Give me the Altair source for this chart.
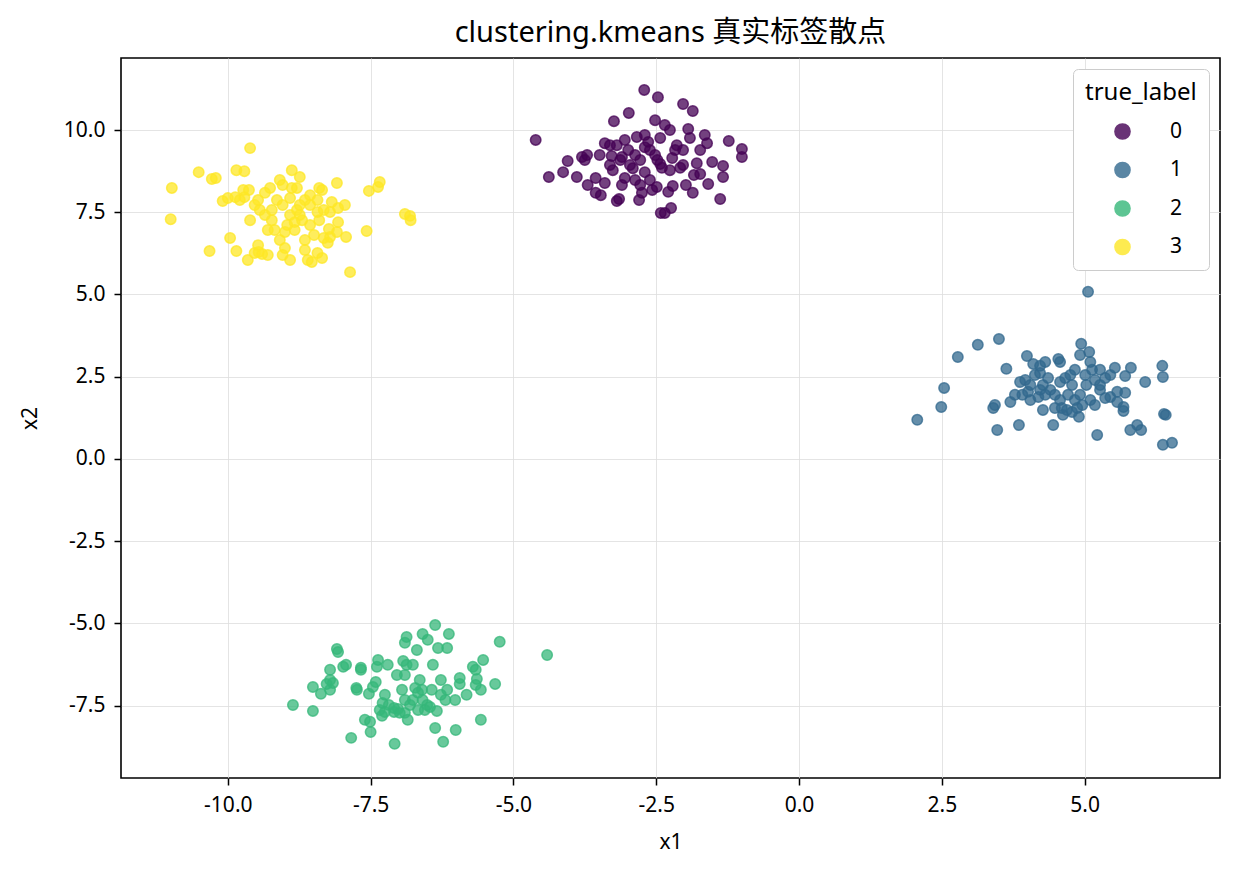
import altair as alt
import pandas as pd

# cluster 0 (purple)
c0_x = [-4.61, -2.71, -2.47, -2.98, -3.24, -2.03, -1.86, -4.05, -3.80, -3.75, -4.38, -4.13, -3.89, -3.70, -3.56,
        -3.47, -3.19, -3.15, -3.40, -3.28, -3.26, -3.13, -2.99, -2.78, -2.61, -2.43, -2.26, -2.35, -1.91, -1.65,
        -1.61, -1.23, -1.00, -1.00, -1.73, -1.79, -1.33, -1.33, -1.38, -1.84, -1.98, -1.86, -1.59, -2.21, -2.49,
        -2.57, -2.42, -2.35, -2.24, -2.80, -2.87, -2.70, -2.43, -2.22, -2.08, -2.48, -2.61, -3.05, -2.96, -2.70,
        -2.17, -2.03, -2.40, -3.71, -3.49, -3.31, -2.84, -2.70, -3.19, -2.03, -2.26, -2.52, -3.10, -2.91, -2.78,
        -3.10, -3.56, -3.40, -1.94, -2.64, -2.52, -2.14, -3.31, -2.75, -2.29, -1.73, -1.52, -3.05, -2.87]
c0_y = [9.70, 11.22, 11.00, 10.52, 10.27, 10.79, 10.58, 9.06, 9.18, 9.09, 8.57, 8.72, 8.57, 8.33, 8.09,
        8.02, 7.84, 7.90, 9.60, 9.21, 8.78, 9.09, 9.39, 9.09, 9.39, 9.76, 10.00, 10.15, 9.76, 9.85,
        9.60, 9.67, 9.42, 9.18, 9.39, 8.99, 8.91, 8.57, 7.90, 8.63, 8.33, 8.09, 8.36, 8.30, 8.27,
        8.18, 7.48, 7.48, 7.63, 7.87, 8.48, 8.72, 8.97, 9.15, 8.85, 9.09, 8.48, 8.54, 8.94, 9.48,
        9.39, 9.39, 8.85, 9.24, 9.24, 9.54, 9.79, 9.85, 9.54, 8.94, 8.78, 10.30, 9.18, 8.84, 8.33,
        8.33, 8.54, 8.39, 10.03, 9.64, 9.24, 9.54, 8.94, 8.09, 8.12, 8.66, 9.03, 9.70, 9.24]

# cluster 1 (blue)
c1_x = [2.07, 2.49, 2.54, 2.78, 3.13, 3.50, 3.63, 3.40, 3.43, 3.70, 3.47, 3.85, 3.99, 4.10, 4.31,
        4.54, 4.57, 5.06, 4.94, 4.92, 5.08, 5.10, 5.13, 5.27, 5.53, 5.81, 6.36, 6.37, 6.06, 5.57,
        5.71, 5.45, 5.68, 5.68, 6.39, 6.42, 5.92, 5.99, 5.80, 6.37, 6.53, 5.22, 4.90, 4.83, 4.69,
        4.62, 4.48, 4.45, 4.27, 4.05, 3.91, 3.96, 3.87, 4.13, 4.22, 4.36, 4.27, 4.22, 4.40, 4.57,
        4.66, 4.75, 4.78, 4.71, 4.92, 4.96, 5.10, 5.18, 5.27, 5.36, 5.36, 5.18, 5.01, 4.83, 4.05,
        4.01, 4.48, 4.57, 4.60, 4.78, 4.31, 4.19, 4.87, 5.45, 5.71, 3.78, 4.22, 5.27, 5.03, 5.57]
c1_y = [1.19, 1.58, 2.16, 3.10, 3.47, 3.65, 2.74, 1.55, 1.64, 1.73, 0.88, 1.03, 3.13, 2.89, 2.95,
        3.04, 2.95, 5.08, 3.50, 3.16, 3.25, 2.95, 2.71, 2.71, 2.77, 2.77, 2.83, 2.49, 2.34, 2.04,
        2.01, 1.88, 1.58, 1.46, 1.37, 1.34, 1.03, 0.88, 0.88, 0.43, 0.49, 0.73, 1.28, 1.79, 1.49,
        1.34, 1.55, 1.03, 1.49, 1.79, 1.95, 2.40, 2.34, 2.55, 2.61, 2.46, 2.25, 2.10, 2.10, 2.34,
        2.46, 2.55, 2.25, 1.95, 1.95, 1.64, 1.79, 2.40, 2.25, 2.46, 1.85, 1.64, 2.55, 2.71, 2.25,
        2.04, 1.95, 1.79, 1.55, 1.43, 1.95, 1.88, 1.55, 2.55, 2.52, 1.95, 2.83, 2.10, 2.25, 1.73]

# cluster 2 (green)
c2_x = [-8.86, -8.51, -8.51, -8.37, -8.21, -8.16, -8.21, -8.09, -8.07, -7.98, -7.93, -8.21, -8.27, -7.84, -7.74,
        -7.75, -7.67, -7.67, -7.60, -7.51, -7.50, -7.53, -7.46, -7.39, -7.37, -7.41, -7.34, -7.30, -7.29, -7.25,
        -7.20, -7.08, -7.09, -7.02, -6.95, -6.93, -6.90, -6.87, -6.90, -6.87, -6.76, -6.69, -6.59, -6.50, -6.37,
        -6.32, -6.16, -6.13, -6.41, -6.81, -6.90, -6.76, -6.67, -6.60, -6.55, -6.51, -6.43, -6.46, -6.34, -6.37,
        -6.23, -6.19, -6.02, -6.01, -5.94, -5.94, -5.82, -5.71, -5.66, -5.64, -5.66, -5.57, -5.53, -5.57, -5.32,
        -5.24, -4.41, -7.18, -7.09, -7.04, -6.64, -6.72, -6.59, -6.90, -6.85, -6.16, -6.27, -6.27, -6.99, -6.67,
        -7.25]
c2_y = [-7.48, -6.93, -7.66, -7.14, -7.02, -6.81, -6.41, -5.78, -5.87, -6.32, -6.26, -6.72, -6.84, -8.48, -7.02,
        -6.96, -6.41, -6.35, -7.93, -7.99, -8.30, -7.14, -6.93, -6.32, -6.11, -6.78, -7.63, -7.81, -7.42, -7.17,
        -6.26, -8.66, -7.69, -7.60, -7.02, -6.14, -5.59, -5.41, -6.57, -6.26, -6.26, -5.81, -5.32, -5.50, -5.05,
        -5.75, -5.75, -5.32, -6.26, -7.48, -7.72, -7.33, -7.11, -7.02, -7.63, -7.48, -7.02, -7.54, -7.66, -8.18,
        -8.60, -7.33, -7.33, -8.24, -6.66, -6.84, -7.17, -6.32, -6.41, -6.69, -6.87, -7.02, -6.11, -7.93, -6.84,
        -5.56, -5.96, -7.48, -7.57, -6.57, -6.72, -6.96, -7.33, -7.33, -7.93, -7.02, -7.17, -6.72, -7.72, -7.63,
        -7.69]

# cluster 3 (yellow)
c3_x = [-10.98, -11.00, -10.51, -10.28, -10.21, -10.32, -10.09, -9.96, -9.85, -9.85, -9.71, -9.61, -9.73, -9.63, -10.00,
        -9.87, -9.79, -9.71, -9.53, -9.47, -9.61, -9.65, -9.53, -9.46, -9.40, -9.30, -9.35, -9.23, -9.47, -9.30,
        -9.18, -9.09, -9.00, -8.91, -9.04, -9.26, -9.09, -9.04, -9.14, -9.04, -8.88, -8.88, -8.91, -8.79, -8.79,
        -8.74, -8.70, -8.83, -8.96, -8.65, -8.56, -8.65, -8.65, -8.60, -8.53, -8.43, -8.35, -8.49, -8.56, -8.40,
        -8.43, -8.32, -8.21, -8.07, -7.95, -8.09, -8.40, -8.35, -8.25, -8.21, -8.09, -8.07, -8.23, -7.93, -7.86,
        -7.57, -7.53, -7.37, -7.34, -6.90, -6.81, -6.80, -8.74, -9.35, -9.44, -9.23, -8.56, -8.83, -8.43, -8.74,
        -8.91, -9.00, -8.32, -8.18]
c3_y = [8.24, 7.29, 8.72, 8.51, 8.54, 6.32, 7.84, 6.72, 6.32, 8.78, 8.75, 9.45, 8.18, 8.18, 7.93,
        7.96, 7.87, 7.96, 7.72, 7.87, 7.26, 6.05, 6.26, 6.29, 6.23, 6.20, 7.42, 7.26, 6.50, 6.96,
        6.96, 6.66, 6.41, 6.05, 6.20, 8.24, 8.48, 8.33, 7.87, 7.72, 8.78, 8.24, 7.93, 8.24, 7.57,
        7.72, 7.26, 7.20, 7.11, 7.87, 8.02, 6.66, 6.35, 6.05, 5.99, 6.26, 6.11, 6.81, 7.11, 7.26,
        7.51, 7.57, 7.51, 7.63, 7.72, 8.39, 8.24, 8.18, 6.57, 6.75, 6.90, 7.20, 6.99, 6.75, 5.68,
        6.93, 8.15, 8.27, 8.42, 7.45, 7.39, 7.26, 8.57, 8.09, 7.57, 7.57, 7.72, 6.96, 7.87, 7.42,
        7.42, 6.90, 6.72, 7.81]

labels = ["0", "1", "2", "3"]
colors = ["#440154", "#31688e", "#35b779", "#fde725"]
x_ticks = [-10.0, -7.5, -5.0, -2.5, 0.0, 2.5, 5.0]
y_ticks = [-7.5, -5.0, -2.5, 0.0, 2.5, 5.0, 7.5, 10.0]

rows = []
for lab, xs, ys in zip(labels, [c0_x, c1_x, c2_x, c3_x], [c0_y, c1_y, c2_y, c3_y]):
    for a, b in zip(xs, ys):
        rows.append({"x1": a, "x2": b, "true_label": lab})
df = pd.DataFrame(rows)

FONT = "Noto Sans, Noto Sans CJK SC, sans-serif"
label_expr = "(datum.value < 0 ? '-' : '') + format(abs(datum.value), '.1f')"

chart = alt.Chart(df).mark_circle(
    size=110, fillOpacity=0.75, strokeOpacity=0.75, strokeWidth=1.5
).encode(
    x=alt.X("x1:Q", scale=alt.Scale(domain=[-11.87, 7.37], nice=False, zero=False),
            axis=alt.Axis(values=x_ticks, labelExpr=label_expr, title="x1", titlePadding=16)),
    y=alt.Y("x2:Q", scale=alt.Scale(domain=[-9.70, 12.19], nice=False, zero=False),
            axis=alt.Axis(values=y_ticks, labelExpr=label_expr, title="x2", titlePadding=23)),
    color=alt.Color("true_label:N", scale=alt.Scale(domain=labels, range=colors),
                    legend=alt.Legend(title="true_label", orient="top-right", offset=11,
                                      fillColor="white", strokeColor="#cccccc",
                                      padding=12, symbolSize=230, symbolOffset=27, labelOffset=37,
                                      rowPadding=15.5, symbolOpacity=0.8, symbolStrokeWidth=1.5,
                                      labelFontSize=21, titleFontSize=24, titleFontWeight="normal",
                                      titlePadding=16, labelFont=FONT, titleFont=FONT,
                                      labelColor="black", titleColor="black")),
    stroke=alt.Stroke("true_label:N", scale=alt.Scale(domain=labels, range=colors), legend=None),
).properties(
    width=1099, height=720,
    padding={"left": 121, "top": 58, "right": 19, "bottom": 98},
    autosize=alt.AutoSizeParams(type="none"),
    title=alt.TitleParams("clustering.kmeans 真实标签散点", fontSize=29, font=FONT,
                          fontWeight="normal", color="black", offset=10, anchor="middle"),
).configure_view(
    stroke="black", strokeWidth=1.6
).configure_legend(
    cornerRadius=5
).configure_axis(
    grid=True, gridColor="#dddddd", gridOpacity=0.8, domain=False,
    tickColor="black", tickSize=7, tickWidth=1.5, labelFontSize=21, titleFontSize=21,
    labelFont=FONT, titleFont=FONT,
    labelColor="black", titleColor="black", titleFontWeight="normal", labelPadding=9
)

chart.save("out.html", embed_options={"renderer": "svg", "actions": False})
